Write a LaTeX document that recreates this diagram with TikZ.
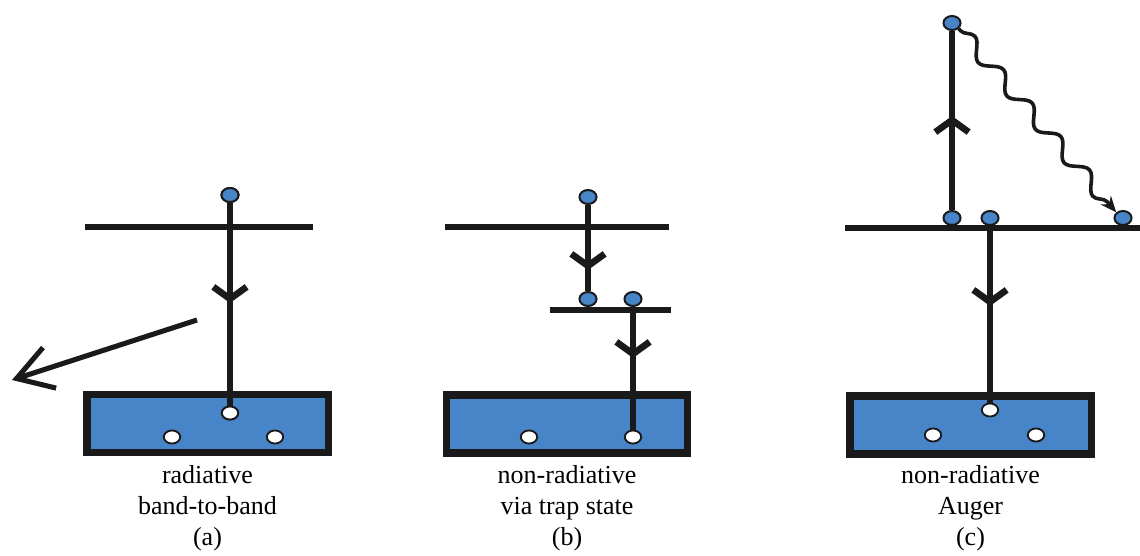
\documentclass[tikz,border=0pt]{standalone}
\usepackage{fontspec}
\setmainfont{Liberation Serif}
\usetikzlibrary{arrows.meta,shapes.geometric,decorations.pathmorphing}
\definecolor{bandblue}{RGB}{72,132,200}
\definecolor{ink}{RGB}{26,26,26}
\begin{document}
\begin{tikzpicture}[x=0.75pt,y=-0.75pt,
  level/.style={draw=ink,line width=5pt},
  trans/.style={draw=ink,line width=5pt},
  barb/.style={-{Straight Barb[length=9pt,width=25pt]}},
  photon/.style={draw=ink,line width=3.8pt,-{Straight Barb[length=26pt,width=32pt]}},
  wavy/.style={draw=ink,line width=2.7pt,-{Stealth[length=12pt,width=10pt]},
    decorate,decoration={snake,amplitude=5.5pt,segment length=33pt,pre length=2pt,post length=10pt}},
  electron/.style={ellipse,draw=ink,line width=1.5pt,fill=bandblue,minimum width=12.8pt,minimum height=10.5pt,inner sep=0pt},
  hole/.style={ellipse,draw=ink,line width=1.4pt,fill=white,minimum width=12.3pt,minimum height=9.8pt,inner sep=0pt},
  vband/.style={rectangle,draw=ink,line width=5.5pt,fill=bandblue,minimum width=181pt,minimum height=43.5pt,inner sep=0pt},
  caption/.style={align=center,font=\fontsize{19.5}{23}\selectfont,inner sep=0pt,anchor=base}
]
\useasboundingbox (0,0) rectangle (1140,556);

% ---------- panel (a) ----------
\node[vband] (vb_a) at (207.5,423.5) {};
\coordinate (cba1) at (85,227);
\coordinate (cba2) at (313,227);
\draw[level] (cba1) -- (cba2);
\node[electron] (e_a) at (230,195) {};
\node[hole] (h_a1) at (230,413) {};
\node[hole] (h_a2) at (172,437) {};
\node[hole] (h_a3) at (275,437) {};
\coordinate (ma) at (230,303);
\draw[trans] (e_a) -- (h_a1);
\draw[trans,barb] (e_a) -- (ma);
\node[electron] at (e_a) {};
\node[hole] at (h_a1) {};
\coordinate (ph1) at (197,320);
\coordinate (ph2) at (12,380);
\draw[photon] (ph1) -- (ph2);
\node[caption] (cap_a) at (207.5,545) {radiative\\band-to-band\\(a)};

% ---------- panel (b) ----------
\node[vband] (vb_b) at (567,424) {};
\coordinate (cbb1) at (445,227);
\coordinate (cbb2) at (669,227);
\draw[level] (cbb1) -- (cbb2);
\coordinate (tr1) at (550,310);
\coordinate (tr2) at (671,310);
\draw[level] (tr1) -- (tr2);
\node[electron] (e_b1) at (588,197) {};
\node[electron] (e_b2) at (588,299) {};
\node[electron] (e_b3) at (633,299) {};
\node[hole] (h_b1) at (529,437) {};
\node[hole] (h_b2) at (633,437) {};
\coordinate (mb1) at (588,270);
\coordinate (mb2) at (633,358);
\draw[trans] (e_b1) -- (e_b2);
\draw[trans,barb] (e_b1) -- (mb1);
\draw[trans] (e_b3) -- (h_b2);
\draw[trans,barb] (e_b3) -- (mb2);
\node[caption] (cap_b) at (567,545) {non-radiative\\via trap state\\(b)};

% ---------- panel (c) ----------
\node[vband] (vb_c) at (970.5,425) {};
\coordinate (cbc1) at (845,228);
\coordinate (cbc2) at (1140,228);
\draw[level] (cbc1) -- (cbc2);
\node[electron] (e_c1) at (952,23) {};
\node[electron] (e_c2) at (952,218) {};
\node[electron] (e_c3) at (990,218) {};
\node[electron] (e_c4) at (1123,218) {};
\node[hole] (h_c1) at (990,410) {};
\node[hole] (h_c2) at (933,435) {};
\node[hole] (h_c3) at (1036,435) {};
\coordinate (mc1) at (952,116);
\coordinate (mc2) at (990,306);
\draw[trans] (e_c2) -- (e_c1);
\draw[trans,barb] (e_c2) -- (mc1);
\draw[trans] (e_c3) -- (h_c1);
\draw[trans,barb] (e_c3) -- (mc2);
\draw[wavy] (e_c1.south east) -- (e_c4.north west);
\node[caption] (cap_c) at (970.5,545) {non-radiative\\Auger\\(c)};
\end{tikzpicture}
\end{document}
